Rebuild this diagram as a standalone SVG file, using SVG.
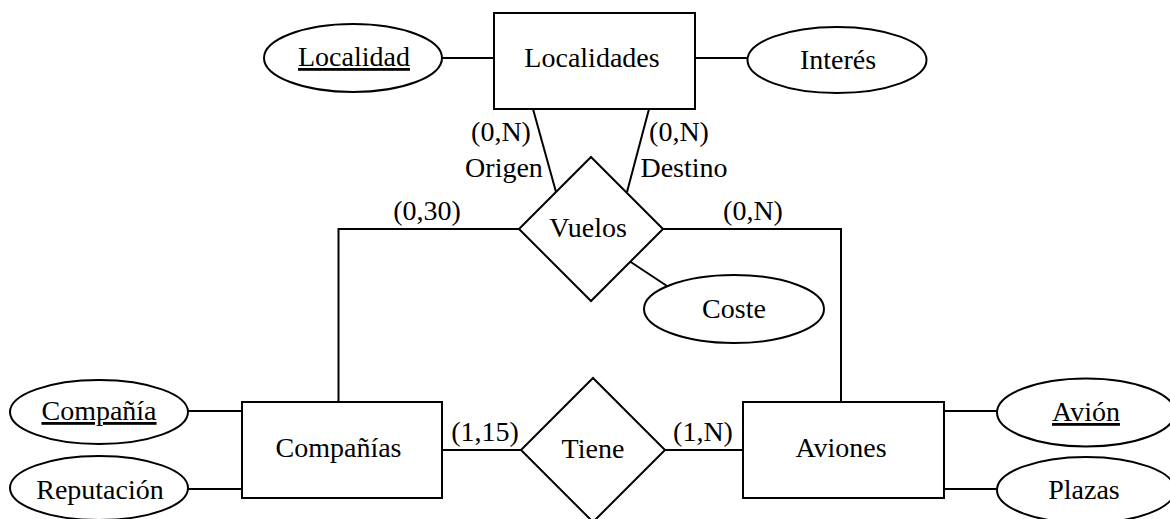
<svg xmlns="http://www.w3.org/2000/svg" width="1170" height="519" viewBox="0 0 1170 519" font-family="'Liberation Serif', 'Times New Roman', 'DejaVu Serif', serif" font-size="28">
<style>
.s{fill:#fff;stroke:#000;stroke-width:2}
.l{fill:none;stroke:#000;stroke-width:2}
.c{text-anchor:middle}
.u{text-decoration:underline}
</style>
<rect width="1170" height="519" fill="#fff"/>
<g id="connectors">
<line class="l" x1="442" y1="58" x2="494" y2="58"/>
<line class="l" x1="695" y1="58" x2="748" y2="58"/>
<line class="l" x1="533" y1="109" x2="556" y2="192"/>
<line class="l" x1="649" y1="109" x2="627" y2="192"/>
<polyline class="l" points="519,229 338.5,229 338.5,402"/>
<polyline class="l" points="663,229 841,229 841,402"/>
<line class="l" x1="630" y1="261.5" x2="667" y2="286"/>
<line class="l" x1="442" y1="450" x2="521" y2="450"/>
<line class="l" x1="665" y1="450" x2="743" y2="450"/>
<line class="l" x1="187" y1="411" x2="242" y2="411"/>
<line class="l" x1="187" y1="489" x2="242" y2="489"/>
<line class="l" x1="944" y1="411" x2="997" y2="411"/>
<line class="l" x1="944" y1="489" x2="997" y2="489"/>
<text x="501" y="141" class="c">(0,N)</text>
<text x="679" y="141" class="c">(0,N)</text>
<text x="504" y="177" class="c">Origen</text>
<text x="684" y="177" class="c">Destino</text>
<text x="427" y="220" class="c">(0,30)</text>
<text x="753" y="220" class="c">(0,N)</text>
<text x="485" y="441" class="c">(1,15)</text>
<text x="703" y="441" class="c">(1,N)</text>
</g>
<g id="localidades">
<rect class="s" x="494" y="13" width="201" height="96"/>
<text x="592" y="67" class="c">Localidades</text>
</g>
<g id="localidad">
<ellipse class="s" cx="353" cy="58" rx="89" ry="34"/>
<text x="354" y="66" class="c u">Localidad</text>
</g>
<g id="interes">
<ellipse class="s" cx="837" cy="60" rx="89.5" ry="33"/>
<text x="838" y="69" class="c">Interés</text>
</g>
<g id="vuelos">
<polygon class="s" points="591,157 663,229 591,301 519,229"/>
<text x="588" y="237" class="c">Vuelos</text>
</g>
<g id="coste">
<ellipse class="s" cx="734" cy="309" rx="90" ry="34"/>
<text x="734" y="318" class="c">Coste</text>
</g>
<g id="companias">
<rect class="s" x="242" y="402" width="200" height="96"/>
<text x="338.5" y="457" class="c">Compañías</text>
</g>
<g id="compania">
<ellipse class="s" cx="99" cy="412" rx="89" ry="32"/>
<text x="99" y="420" class="c u">Compañía</text>
</g>
<g id="reputacion">
<ellipse class="s" cx="99" cy="488" rx="89" ry="32"/>
<text x="100" y="499" class="c">Reputación</text>
</g>
<g id="tiene">
<polygon class="s" points="593,378 665,450 593,522 521,450"/>
<text x="593" y="458" class="c">Tiene</text>
</g>
<g id="aviones">
<rect class="s" x="743" y="402" width="201" height="96"/>
<text x="841" y="457" class="c">Aviones</text>
</g>
<g id="avion">
<ellipse class="s" cx="1086" cy="412.5" rx="89" ry="34"/>
<text x="1086" y="421" class="c u">Avión</text>
</g>
<g id="plazas">
<ellipse class="s" cx="1086" cy="490" rx="89" ry="33"/>
<text x="1084" y="499" class="c">Plazas</text>
</g>
</svg>
